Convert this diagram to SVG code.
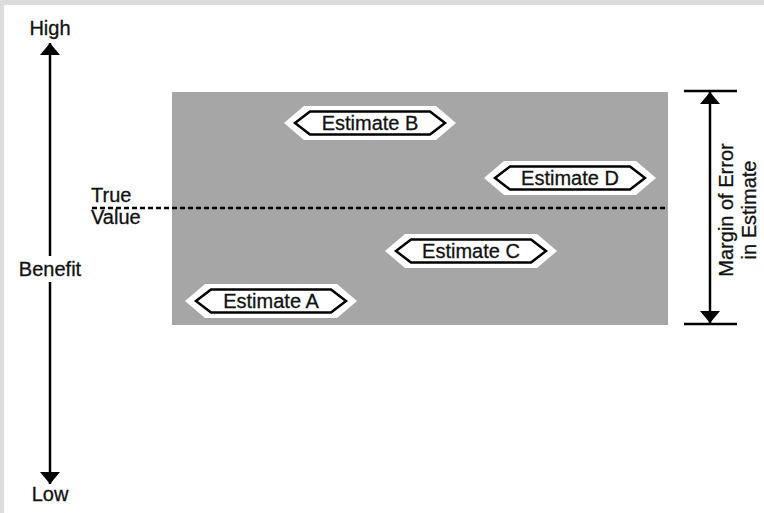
<svg xmlns="http://www.w3.org/2000/svg" width="764" height="513" viewBox="0 0 764 513">
  <style>
    .lbl { font-family: "Liberation Sans", Arial, sans-serif; font-size: 20px; fill: #111; stroke: #111; stroke-width: 0.3; }
    .mid { text-anchor: middle; }
    .axis { stroke: #000; stroke-width: 2.5; fill: none; }
    .dash { stroke: #000; stroke-width: 2.5; stroke-dasharray: 5 3; fill: none; }
  </style>
  <defs>
    <marker id="arrow" viewBox="0 0 12 20" refX="12" refY="10" markerWidth="12" markerHeight="20" markerUnits="userSpaceOnUse" orient="auto">
      <path d="M0,0 L12,10 L0,20 Z" fill="#000"/>
    </marker>
    <!-- double-bordered hexagon tag centred on the origin -->
    <g id="tag">
      <polygon points="-86,0 -66,-17 66,-17 86,0 66,17 -66,17" fill="#fff"/>
      <polygon points="-75,0 -60,-11.5 60,-11.5 75,0 60,11.5 -60,11.5" fill="#fff" stroke="#000" stroke-width="2.5"/>
    </g>
  </defs>

  <!-- page frame -->
  <rect x="0" y="0" width="764" height="513" fill="#fff"/>
  <rect x="0" y="0" width="764" height="5" fill="#dcdcdc"/>
  <rect x="0" y="0" width="4" height="513" fill="#dcdcdc"/>

  <!-- range of estimates -->
  <rect id="range" x="172" y="92" width="496" height="233" fill="#a6a6a6"/>

  <g id="connectors">
    <!-- benefit axis -->
    <line class="axis" x1="50" y1="263" x2="50" y2="43" marker-end="url(#arrow)"/>
    <line class="axis" x1="50" y1="263" x2="50" y2="484" marker-end="url(#arrow)"/>
    <!-- true value line -->
    <line class="dash" x1="92" y1="208" x2="668" y2="208"/>
    <!-- margin of error span -->
    <line class="axis" x1="684" y1="91" x2="737" y2="91"/>
    <line class="axis" x1="684" y1="324" x2="737" y2="324"/>
    <line class="axis" x1="710" y1="208" x2="710" y2="92" marker-end="url(#arrow)"/>
    <line class="axis" x1="710" y1="208" x2="710" y2="323" marker-end="url(#arrow)"/>
  </g>

  <g id="axis-labels">
    <text class="lbl mid" x="50" y="35">High</text>
    <text class="lbl mid" x="50" y="501">Low</text>
    <rect x="14" y="256" width="72" height="26" fill="#fff"/>
    <text class="lbl mid" x="50" y="276">Benefit</text>
  </g>

  <g id="true-value">
    <text class="lbl" x="91" y="202">True</text>
    <text class="lbl" x="91" y="224">Value</text>
  </g>

  <g id="margin-label" transform="translate(0,210) rotate(-90)">
    <text class="lbl mid" x="0" y="733">Margin of Error</text>
    <text class="lbl mid" x="0" y="756">in Estimate</text>
  </g>

  <g id="estimate-b" transform="translate(370,123)">
    <use href="#tag"/>
    <text class="lbl mid" x="0" y="7">Estimate B</text>
  </g>
  <g id="estimate-d" transform="translate(570,178)">
    <use href="#tag"/>
    <text class="lbl mid" x="0" y="7">Estimate D</text>
  </g>
  <g id="estimate-c" transform="translate(471,251)">
    <use href="#tag"/>
    <text class="lbl mid" x="0" y="7">Estimate C</text>
  </g>
  <g id="estimate-a" transform="translate(271,301)">
    <use href="#tag"/>
    <text class="lbl mid" x="0" y="7">Estimate A</text>
  </g>
</svg>
